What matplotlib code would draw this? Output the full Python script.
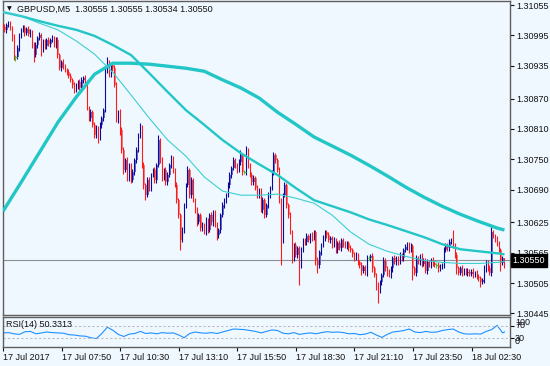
import numpy as np
import matplotlib.pyplot as plt
from matplotlib import transforms

plt.rcParams['font.family'] = ['Liberation Sans', 'DejaVu Sans']
plt.rcParams['font.size'] = 6.5

# prices are kept in points (0.00001) above 1.30000
BASE = 1.30000
PT = 0.00001

first_open = 1016
closes = [
    1012, 1006, 1016, 1018, 1010, 990, 952, 952, 970, 994,
    1006, 1010, 1000, 1008, 998, 1002, 976, 956, 976, 990,
    996, 966, 982, 974, 986, 978, 986, 990, 976, 986,
    956, 930, 942, 934, 926, 922, 915, 907, 897, 887,
    895, 903, 891, 907, 911, 903, 851, 831, 843, 818,
    798, 812, 792, 818, 831, 847, 926, 942, 917, 936,
    930, 897, 827, 843, 808, 768, 728, 748, 713, 738,
    709, 724, 748, 768, 798, 812, 738, 699, 679, 709,
    693, 719, 728, 709, 738, 788, 748, 713, 728, 705,
    719, 738, 752, 728, 699, 669, 639, 590, 610, 659,
    699, 728, 679, 709, 669, 649, 625, 639, 614, 620,
    606, 629, 610, 639, 625, 645, 620, 600, 610, 639,
    659, 669, 679, 699, 719, 732, 748, 738, 728, 744,
    758, 724, 724, 768, 738, 719, 705, 713, 693, 679,
    689, 649, 669, 639, 659, 679, 693, 724, 758, 748,
    728, 669, 590, 679, 699, 659, 639, 606, 554, 580,
    560, 574, 540, 570, 590, 586, 598, 590, 600, 594,
    606, 550, 540, 566, 580, 594, 606, 600, 590, 594,
    580, 590, 570, 584, 574, 590, 582, 578, 584, 574,
    570, 562, 554, 560, 546, 540, 530, 536, 526, 554,
    554, 558, 534, 521, 501, 491, 507, 521, 550, 534,
    526, 521, 534, 554, 546, 554, 546, 560, 554, 570,
    576, 582, 570, 578, 534, 526, 554, 546, 558, 542,
    550, 530, 546, 540, 550, 544, 540, 540, 534, 538,
    540, 570, 580, 574, 586, 590, 580, 560, 534, 526,
    534, 526, 530, 526, 528, 524, 528, 522, 526, 518,
    515, 507, 511, 534, 546, 534, 526, 606, 598, 592,
    585, 570, 545, 555, 550,
]
wick_up = [
    4, 6, 3, 5, 6, 4, 8, 4, 6, 5,
    4, 6, 5, 3, 6, 5, 4, 6, 5, 4,
    6, 4, 5, 6, 4, 5, 3, 6, 4, 5,
    6, 5, 4, 6, 5, 4, 6, 5, 4, 6,
    5, 4, 6, 5, 4, 6, 4, 5, 6, 4,
    5, 6, 4, 6, 5, 4, 6, 10, 5, 6,
    4, 6, 5, 4, 6, 5, 6, 4, 6, 5,
    4, 6, 5, 6, 4, 10, 5, 6, 4, 5,
    6, 4, 5, 6, 4, 10, 5, 6, 4, 6,
    5, 4, 6, 5, 4, 6, 5, 4, 6, 5,
    4, 8, 5, 6, 4, 5, 6, 4, 5, 6,
    4, 6, 5, 4, 6, 5, 4, 6, 5, 4,
    6, 5, 4, 6, 5, 4, 6, 5, 4, 6,
    10, 5, 4, 8, 5, 4, 6, 5, 4, 6,
    5, 4, 6, 5, 4, 6, 5, 4, 6, 5,
    4, 6, 5, 4, 6, 5, 4, 6, 5, 4,
    6, 5, 4, 6, 5, 4, 6, 5, 4, 6,
    5, 4, 6, 5, 4, 6, 5, 4, 6, 5,
    4, 6, 5, 4, 6, 5, 4, 6, 5, 4,
    6, 5, 4, 6, 5, 4, 6, 5, 4, 6,
    4, 5, 6, 4, 5, 6, 4, 5, 6, 4,
    5, 6, 4, 5, 6, 4, 5, 6, 4, 5,
    6, 4, 5, 6, 4, 5, 6, 4, 5, 6,
    4, 5, 6, 4, 5, 6, 4, 5, 6, 4,
    5, 6, 4, 5, 6, 4, 20, 5, 6, 4,
    5, 6, 4, 5, 6, 4, 5, 6, 4, 5,
    6, 4, 5, 6, 4, 5, 6, 10, 4, 5,
    6, 4, 5, 4, 0,
]
wick_dn = [
    5, 4, 6, 5, 4, 6, 5, 8, 4, 6,
    5, 4, 6, 5, 4, 6, 5, 14, 4, 6,
    5, 12, 4, 6, 5, 4, 6, 5, 4, 6,
    5, 4, 6, 5, 4, 6, 5, 4, 6, 5,
    4, 6, 5, 4, 6, 5, 4, 6, 5, 4,
    6, 5, 10, 4, 6, 5, 4, 6, 5, 4,
    6, 5, 4, 6, 10, 5, 8, 4, 6, 5,
    6, 4, 5, 6, 4, 5, 6, 8, 10, 4,
    5, 6, 4, 5, 6, 4, 5, 6, 4, 5,
    6, 4, 5, 6, 4, 5, 6, 20, 4, 5,
    6, 4, 5, 6, 4, 5, 6, 4, 5, 6,
    4, 5, 6, 4, 5, 6, 4, 10, 5, 6,
    4, 5, 6, 4, 5, 6, 4, 5, 6, 4,
    5, 6, 4, 5, 6, 4, 5, 6, 4, 5,
    6, 4, 5, 6, 4, 5, 6, 4, 5, 6,
    4, 5, 50, 6, 4, 5, 6, 4, 10, 5,
    4, 6, 39, 5, 4, 6, 5, 4, 6, 5,
    4, 10, 14, 5, 6, 4, 5, 6, 4, 5,
    6, 4, 5, 6, 4, 5, 6, 4, 5, 6,
    4, 5, 6, 4, 5, 6, 8, 4, 5, 6,
    4, 5, 6, 4, 10, 26, 5, 6, 4, 5,
    6, 4, 5, 6, 4, 5, 6, 4, 5, 6,
    4, 5, 6, 4, 23, 5, 6, 4, 5, 6,
    4, 5, 6, 4, 5, 6, 4, 5, 6, 4,
    5, 6, 4, 5, 6, 4, 5, 6, 10, 4,
    5, 6, 4, 5, 6, 4, 5, 6, 4, 5,
    6, 10, 4, 5, 6, 4, 5, 6, 4, 5,
    6, 4, 15, 5, 16,
]

# moving averages read every 10 bars
ma_idx = list(range(0, 271, 10)) + [274]
ma_slow = [647, 705, 764, 823, 873, 918, 940, 940, 938, 934, 930, 924, 907, 891, 871,
           843, 819, 794, 776, 758, 738, 717, 695, 675, 657, 641, 627, 614, 610]
ma_mid = [1041, 1033, 1023, 1014, 1006, 994, 976, 956, 920, 883, 847, 818, 788, 762, 740,
          719, 693, 669, 657, 645, 631, 620, 608, 596, 582, 572, 568, 564, 562]
ma_fast = [1041, 1033, 1019, 1006, 984, 958, 922, 877, 831, 788, 756, 715, 687, 679, 679,
           681, 673, 663, 639, 606, 582, 568, 558, 550, 546, 544, 544, 546, 548]

# RSI(14) read every 3 bars
rsi_idx = list(range(0, 274, 3)) + [274]
rsi = [47, 48, 44, 42, 51, 52, 44, 47, 50, 48,
       47, 46, 41, 40, 37, 36, 31, 28, 45, 66,
       56, 42, 35, 43, 45, 52, 45, 47, 44, 48,
       46, 47, 40, 31, 45, 50, 47, 46, 48, 45,
       50, 55, 60, 59, 58, 55, 52, 47, 52, 57,
       55, 46, 44, 48, 42, 45, 47, 44, 48, 51,
       49, 50, 48, 44, 45, 41, 43, 49, 40, 32,
       42, 50, 52, 55, 60, 50, 48, 52, 49, 50,
       55, 58, 60, 50, 44, 43, 44, 43, 52, 58,
       72, 47, 50.33]

time_idx = list(range(0, 275, 32))
time_labels = ['17 Jul 2017', '17 Jul 07:50', '17 Jul 10:30', '17 Jul 13:10', '17 Jul 15:50',
               '17 Jul 18:30', '17 Jul 21:10', '17 Jul 23:50', '18 Jul 02:30']
price_ticks = [1.31055, 1.30995, 1.30935, 1.30870, 1.30810, 1.30750,
               1.30690, 1.30625, 1.30565, 1.30505, 1.30445]
last_price = 1.30550
title = 'GBPUSD,M5  1.30555 1.30555 1.30534 1.30550'

# ---- build OHLC
c = np.array(closes, dtype=float)
o = np.concatenate([[first_open], c[:-1]])
hi = (np.maximum(o, c) + np.array(wick_up)) * PT + BASE
lo = (np.minimum(o, c) - np.array(wick_dn)) * PT + BASE
c_p = c * PT + BASE
o_p = o * PT + BASE
x = np.arange(len(c))

bull = c > o
bear = c < o
doji = c == o

bg = '#F0F8FF'
fig = plt.figure(figsize=(5.5, 3.66), dpi=100, facecolor=bg)
W, H = 550, 366
ax = fig.add_axes([2.5 / W, 1 - 314.5 / H, 508 / W, 313.5 / H], facecolor=bg)
ax_r = fig.add_axes([2.5 / W, 1 - 347 / H, 508 / W, 30.5 / H], facecolor=bg)

ax.axhline(last_price, color='#8a9096', lw=0.8, zorder=1)

wick_col = np.where(bull, '#0a0a9a', np.where(bear, '#ff1a1a', '#32cd32'))
body_col = np.where(bull, '#6e6ec8', '#f08080')
ax.bar(x[~doji] + 0.2, (np.abs(c_p - o_p))[~doji], bottom=np.minimum(o_p, c_p)[~doji],
       width=0.7, color=body_col[~doji], linewidth=0, zorder=2)
ax.vlines(x - 0.25, lo, hi, colors=wick_col, lw=0.8, zorder=3)
ax.hlines(c_p[doji], x[doji] - 0.5, x[doji] + 0.6, colors='#32cd32', lw=0.8, zorder=3)

mi = np.array(ma_idx)
ax.plot(mi, np.array(ma_slow) * PT + BASE, color='#22c6c6', lw=2.4, zorder=4, solid_capstyle='butt')
ax.plot(mi, np.array(ma_mid) * PT + BASE, color='#22c6c6', lw=1.7, zorder=4, solid_capstyle='butt')
ax.plot(mi, np.array(ma_fast) * PT + BASE, color='#3ccfcf', lw=0.8, zorder=4)

xlim = (-0.27, 277.3)
ax.set_xlim(*xlim)
ax.set_ylim(BASE + 443 * PT, BASE + 1063 * PT)
ax.yaxis.tick_right()
ax.set_yticks(price_ticks)
ax.set_yticklabels(['%.5f' % p for p in price_ticks])
ax.tick_params(axis='y', length=3, width=0.8, pad=1.5, colors='#111111', labelsize=6.5)
ax.tick_params(axis='x', bottom=False, labelbottom=False)

blend = transforms.blended_transform_factory(ax.transAxes, ax.transData)
ax.text(1.004, last_price, '%.5f' % last_price, transform=blend, ha='left', va='center',
        color='white', size=6.5, zorder=10, clip_on=False,
        bbox=dict(boxstyle='square,pad=0.18', fc='black', ec='black'))

# RSI panel
ax_r.plot(np.array(rsi_idx), rsi, color='#1e90ff', lw=0.8)
for lvl in (70, 30):
    ax_r.axhline(lvl, color='#bdbdbd', lw=0.8, ls=(0, (2, 2)))
ax_r.set_xlim(*xlim)
ax_r.set_ylim(0, 101.7)
ax_r.yaxis.tick_right()
ax_r.set_yticks([70, 30])
ax_r.set_yticklabels([])
ax_r.tick_params(axis='y', length=3, width=0.8)
blend_r = transforms.blended_transform_factory(ax_r.transAxes, ax_r.transData)
for lab, yv in (('100', 83), ('70', 73), ('30', 30), ('0', 17)):
    ax_r.text(1.0089, yv, lab, transform=blend_r, ha='left', va='center',
              size=6.5, color='#111111', clip_on=False)
ax_r.text(3.5 / 508, 0.74, 'RSI(14) 50.3313', transform=ax_r.transAxes,
          ha='left', va='center', size=6.5, color='#111111')
ax_r.set_xticks(time_idx)
ax_r.set_xticklabels(time_labels, ha='left')
ax_r.tick_params(axis='x', length=3, width=0.8, pad=1.5, colors='#111111', labelsize=6.5)

for a in (ax, ax_r):
    for s in a.spines.values():
        s.set_color('#5e5e5e')
        s.set_linewidth(1.0)

fig.text(9 / W, 1 - 9 / H, '\u25bc', ha='center', va='center', size=4.5,
         color='#111111', family=['DejaVu Sans'])
fig.text(17 / W, 1 - 9 / H, title, ha='left', va='center', size=6.5, color='#111111')

fig.savefig('out.png', dpi=100, facecolor=bg)
